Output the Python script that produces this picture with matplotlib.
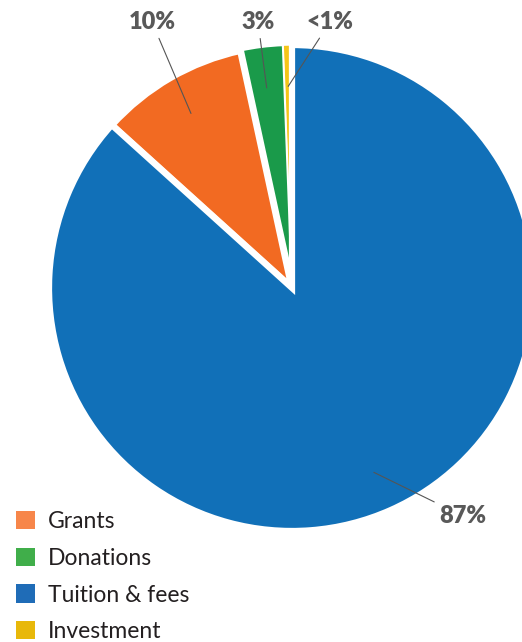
import numpy as np
import matplotlib
matplotlib.use("Agg")
import matplotlib.pyplot as plt
from matplotlib.patches import Patch

# revenue shares, counter-clockwise from 12 o'clock
sources = ["Investment", "Donations", "Grants", "Tuition & fees"]
shares = [0.6, 2.8, 9.9, 86.7]
pct_labels = ["<1%", "3%", "10%", "87%"]
colors = ["#F5C518", "#1A9A4A", "#F26A22", "#1170B8"]

legend_order = ["Grants", "Donations", "Tuition & fees", "Investment"]
legend_colors = ["#F7864A", "#40AE4A", "#1F6CB7", "#E8B80A"]

plt.rcParams["font.family"] = ["Lato", "DejaVu Sans"]

W, H = 522, 642
fig = plt.figure(figsize=(W / 100, H / 100), dpi=100)
ax = fig.add_axes([0, 0, 1, 1])

cx, cy, R = 292, 288, 243  # pixel layout of the pie

wedges, _ = ax.pie(shares, colors=colors, startangle=90, counterclock=True,
                   radius=1.0, wedgeprops=dict(edgecolor="white"))
for w, lw in zip(wedges, [1.0, 1.5, 5.0, 4.5]):
    w.set_linewidth(lw)

ax.set_xlim((0 - cx) / R, (W - cx) / R)
ax.set_ylim((cy - H) / R, cy / R)
ax.set_aspect("equal")
ax.axis("off")

# label positions (pixels) for each slice
text_px = [(330, 22), (258, 22), (152, 22), (463, 516)]
for w, lab, (tx, ty) in zip(wedges, pct_labels, text_px):
    mid = np.deg2rad((w.theta1 + w.theta2) / 2)
    px, py = 0.83 * np.cos(mid), 0.83 * np.sin(mid)
    ax.annotate(lab, xy=(px, py), xytext=((tx - cx) / R, (cy - ty) / R),
                ha="center", va="center", fontsize=17, fontweight="heavy",
                color="#595959",
                arrowprops=dict(arrowstyle="-", color="#555555", lw=0.8,
                                shrinkA=2, shrinkB=0))

handles = [Patch(facecolor=c, edgecolor="none") for c in legend_colors]
leg = fig.legend(handles, legend_order, loc="upper left",
                 bbox_to_anchor=(0.013, 1 - 502 / H), frameon=False,
                 fontsize=16.5, handlelength=0.85, handleheight=0.85,
                 handletextpad=0.55, labelspacing=0.68, borderaxespad=0)
for t in leg.get_texts():
    t.set_color("#231F20")

fig.savefig("out.png", dpi=100)
